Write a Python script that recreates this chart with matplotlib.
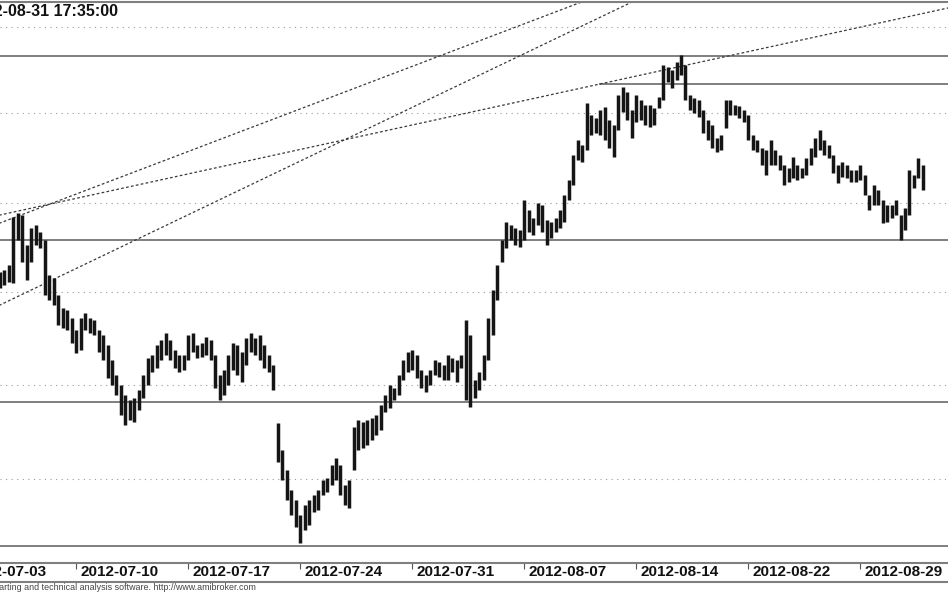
import matplotlib
matplotlib.use("Agg")
import matplotlib.pyplot as plt
from matplotlib.lines import Line2D
from matplotlib.transforms import blended_transform_factory

# 5-minute bars compressed to 5 bars per trading day, bar 0 = 2012-07-03 open
first_bar = 8
highs = [328, 330, 335, 383, 387, 385, 355, 372, 375, 368,
         360, 325, 322, 305, 292, 290, 282, 270, 282, 287,
         282, 280, 270, 265, 255, 240, 225, 215, 205, 200,
         202, 210, 225, 242, 245, 255, 260, 267, 260, 250,
         245, 245, 265, 267, 255, 257, 263, 260, 245, 225,
         230, 245, 257, 255, 248, 262, 267, 262, 265, 255,
         245, 235, 177, 150, 130, 110, 100, 85, 95, 100,
         105, 110, 120, 122, 135, 142, 135, 115, 120, 173,
         180, 178, 180, 182, 185, 195, 205, 215, 212, 225,
         240, 248, 250, 245, 230, 225, 230, 240, 238, 235,
         245, 242, 240, 245, 280, 265, 220, 228, 245, 282,
         310, 335, 360, 378, 375, 372, 370, 400, 390, 382,
         397, 395, 380, 378, 382, 390, 405, 420, 445, 460,
         455, 497, 485, 482, 490, 493, 480, 475, 505, 513,
         508, 490, 505, 500, 495, 495, 492, 503, 535, 533,
         530, 538, 545, 535, 505, 502, 500, 490, 480, 475,
         462, 465, 500, 500, 495, 494, 490, 485, 465, 460,
         452, 450, 460, 450, 445, 435, 432, 443, 435, 432,
         442, 452, 462, 470, 460, 455, 445, 435, 438, 435,
         430, 430, 435, 425, 405, 415, 410, 400, 395, 395,
         400, 385, 392, 430, 425, 442, 435]
lows = [312, 315, 318, 317, 360, 338, 320, 338, 355, 352,
        305, 300, 295, 275, 272, 270, 257, 247, 250, 270,
        267, 265, 248, 240, 222, 215, 205, 185, 175, 180,
        178, 190, 202, 215, 228, 232, 240, 245, 240, 232,
        228, 230, 240, 248, 242, 243, 245, 240, 212, 200,
        205, 215, 230, 225, 218, 235, 248, 245, 240, 232,
        228, 210, 138, 120, 100, 85, 73, 57, 70, 75,
        88, 90, 105, 108, 115, 120, 105, 95, 92, 130,
        150, 152, 155, 160, 165, 170, 188, 192, 200, 205,
        220, 228, 230, 222, 212, 208, 215, 225, 223, 220,
        220, 228, 218, 232, 200, 193, 202, 210, 220, 240,
        265, 300, 338, 352, 360, 355, 353, 360, 368, 365,
        375, 368, 355, 362, 368, 372, 378, 400, 415, 440,
        438, 450, 465, 467, 465, 460, 452, 443, 470, 488,
        480, 462, 478, 480, 475, 473, 475, 492, 500, 518,
        512, 520, 525, 500, 490, 487, 483, 467, 460, 452,
        448, 450, 472, 485, 485, 482, 478, 460, 450, 448,
        435, 425, 435, 435, 430, 415, 418, 422, 420, 422,
        425, 435, 443, 450, 445, 442, 427, 417, 423, 422,
        418, 418, 420, 405, 390, 395, 395, 377, 378, 382,
        385, 360, 370, 385, 412, 422, 410]

tick_bars = [0, 25, 50, 75, 100, 125, 150, 175, 200]
tick_labels = ["2012-07-03", "2012-07-10", "2012-07-17", "2012-07-24",
               "2012-07-31", "2012-08-07", "2012-08-14", "2012-08-22",
               "2012-08-29"]

# horizontal levels: (price, first bar)
levels = [(544, 0), (516, 142), (360, 0), (198, 0), (54, 0)]
grid_levels = [573, 487, 397, 308, 215, 121]

# trendlines as two anchor points (bar, price)
trendlines = [((8, 295), (150, 600)),
              ((8, 377), (139, 600)),
              ((8, 385), (219.6, 592))]

title = "2012-08-31 17:35:00"
footer = "AmiBroker - charting and technical analysis software. http://www.amibroker.com"

W, H = 948, 593
fig = plt.figure(figsize=(W / 100, H / 100), dpi=100)
ax = fig.add_axes([0, (H - 563) / H, 1, (563 - 2) / H])

xmin, xmax = 8.0, 219.6
ax.set_xlim(xmin, xmax)
ax.set_ylim(37, 598)

for g in grid_levels:
    ax.axhline(g, color="#9a9a9a", lw=0.8, ls=(0, (1, 4)), zorder=1)

for price, start in levels:
    ax.plot([start, xmax], [price, price], color="#7f7f7f", lw=1.4, zorder=2)

for (x0, y0), (x1, y1) in trendlines:
    slope = (y1 - y0) / (x1 - x0)
    xs = [xmin - 5, xmax + 5]
    ys = [y0 + slope * (x - x0) for x in xs]
    ax.plot(xs, ys, color="#3a3a3a", lw=0.9, ls=(0, (2.2, 1.8)), zorder=2)

bars = list(range(first_bar, first_bar + len(highs)))
ax.vlines(bars, lows, highs, color="#151515", lw=2.5, zorder=3)

for s in ["left", "right"]:
    ax.spines[s].set_visible(False)
for s in ["top", "bottom"]:
    ax.spines[s].set_color("#7f7f7f")
    ax.spines[s].set_linewidth(1.5)

ax.set_yticks([])
ax.set_xticks([b for b in tick_bars if b >= xmin])
ax.set_xticklabels([])
ax.tick_params(axis="x", direction="out", length=4, width=0.8, color="#555555")

trans = blended_transform_factory(ax.transData, fig.transFigure)
for b, lab in zip(tick_bars, tick_labels):
    ax.text(b + 1.0, (H - 572.5) / H, lab, transform=trans, ha="left", va="center",
            fontsize=11, fontweight="bold", family="Liberation Sans",
            color="#111111", clip_on=False)

fig.add_artist(Line2D([0, 1], [(H - 582) / H] * 2, transform=fig.transFigure,
                      color="#7f7f7f", lw=1.5))

fig.text(118 / W, (H - 11.5) / H, title, ha="right", va="center",
         fontsize=11.5, fontweight="bold", family="Liberation Sans", color="#111111")
fig.text(256 / W, (H - 588) / H, footer, ha="right", va="center",
         fontsize=6.4, family="Liberation Sans", color="#444444")

fig.savefig("out.png", dpi=100)
